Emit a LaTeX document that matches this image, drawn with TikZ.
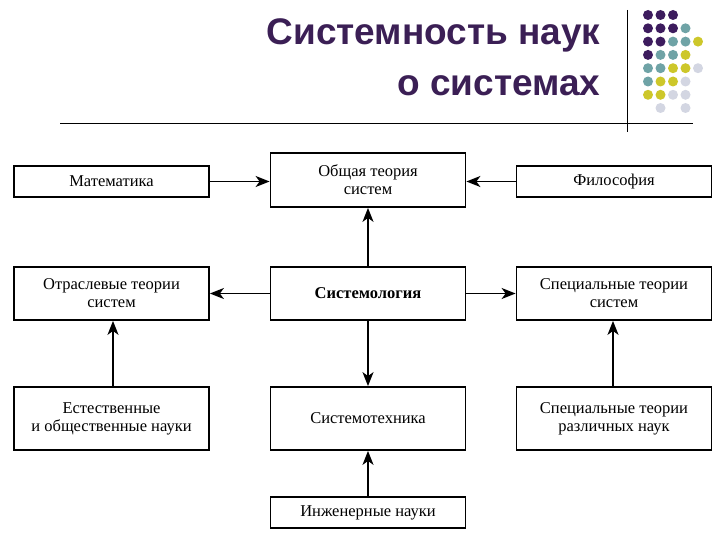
\documentclass[tikz,border=0pt]{standalone}
\usepackage{fontspec}
\setmainfont{Liberation Serif}
\newfontfamily\titlefont{Liberation Sans}
\usetikzlibrary{arrows.meta}
\definecolor{tpurp}{HTML}{3B1F55}
\definecolor{dP}{HTML}{3D1C5E}
\definecolor{dT}{HTML}{6FA3A6}
\definecolor{dY}{HTML}{CDC72A}
\definecolor{dL}{HTML}{D3D6E2}
\begin{document}
\begin{tikzpicture}[x=1pt,y=-1pt,
  bx/.style={draw,line width=1.8pt,minimum width=195pt,align=center,font=\fontsize{16.5}{18}\selectfont,inner sep=1pt},
  ar/.style={-{Stealth[length=14pt,width=11pt,inset=4pt]},line width=1.8pt},
  dotc/.style={circle,inner sep=0pt,minimum size=10pt}]
\useasboundingbox[fill=white] (0,0) rectangle (720,540);
\node[anchor=east,font=\titlefont\bfseries\fontsize{37}{40}\selectfont,text=tpurp] (t1) at (604,35) {Системность наук};
\node[anchor=east,font=\titlefont\bfseries\fontsize{37}{40}\selectfont,text=tpurp] (t2) at (604,86) {о системах};
\draw[line width=0.8pt] (627,10) -- (627,132);
\draw[line width=0.8pt] (60,123) -- (693,123);
\foreach \r/\row in {0/{P,P,P},1/{P,P,P,T},2/{P,P,T,T,Y},3/{P,T,T,Y},4/{T,T,Y,Y,L},5/{T,Y,Y,L},6/{Y,Y,L,L}}{
  \foreach \c [count=\i from 0] in \row {
    \node[dotc,fill=d\c] at ({648+12.5*\i},{15+13.3*\r}) {};
  }}
\node[dotc,fill=dL] at (660.5,108) {};
\node[dotc,fill=dL] at (685.5,108) {};
\node[bx,minimum height=31pt] (mat) at (111.5,181.5) {Математика};
\node[bx,minimum height=54pt] (ots) at (368,180) {Общая теория\\систем};
\node[bx,minimum height=31pt] (fil) at (614,181.5) {Философия};
\node[bx,minimum height=53pt] (otr) at (111.5,293.5) {Отраслевые теории\\систем};
\node[bx,minimum height=53pt,font=\bfseries\fontsize{16.5}{18}\selectfont] (sl) at (368,293.5) {Системология};
\node[bx,minimum height=53pt] (spt) at (614,293.5) {Специальные теории\\систем};
\node[bx,minimum height=63pt] (est) at (111.5,418.5) {Естественные\\и общественные науки};
\node[bx,minimum height=63pt] (stx) at (368,418.5) {Системотехника};
\node[bx,minimum height=63pt] (spr) at (614,418.5) {Специальные теории\\различных наук};
\node[bx,minimum height=31pt] (inz) at (368,512.5) {Инженерные науки};
\draw[ar] (mat) -- (mat -| ots.west);
\draw[ar] (fil) -- (fil -| ots.east);
\draw[ar] (sl) -- (ots);
\draw[ar] (sl) -- (otr);
\draw[ar] (sl) -- (spt);
\draw[ar] (sl) -- (stx);
\draw[ar] (est.north -| 113,0) -- (otr.south -| 113,0);
\draw[ar] (spr.north -| 613,0) -- (spt.south -| 613,0);
\draw[ar] (inz) -- (stx);
\end{tikzpicture}
\end{document}
